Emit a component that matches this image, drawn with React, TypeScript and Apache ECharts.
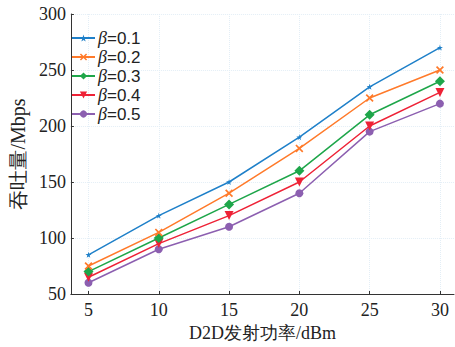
import React, { useEffect, useRef } from "react";
import * as echarts from "echarts";

const xValues = [5, 10, 15, 20, 25, 30];
const xTicks = [5, 10, 15, 20, 25, 30];
const yTicks = [50, 100, 150, 200, 250, 300];
const seriesNames = ["0.1", "0.2", "0.3", "0.4", "0.5"];
const beta01 = [85, 120, 150, 190, 235, 270];
const beta02 = [75, 105, 140, 180, 225, 250];
const beta03 = [70, 100, 130, 160, 210, 240];
const beta04 = [65, 95, 120, 150, 200, 230];
const beta05 = [60, 90, 110, 140, 195, 220];

const colors = ["#1f80c9", "#ff7a2a", "#1ea64a", "#ee2236", "#8c5fb0"];
const starPath =
  "path://M50,0 L61,35 L98,35 L68,57 L79,91 L50,70 L21,91 L32,57 L2,35 L39,35 Z";
const xPath =
  "path://M15,0 L50,35 L85,0 L100,15 L65,50 L100,85 L85,100 L50,65 L15,100 L0,85 L35,50 L0,15 Z";
const symbols = [starPath, xPath, "diamond", "triangle", "circle"];
const symbolSizes = [6, 8, 10, 9, 8];
const symbolRotates = [0, 0, 0, 180, 0];

export default function App() {
  const ref = useRef<HTMLDivElement>(null);
  useEffect(() => {
    if (!ref.current) return;
    const chart = echarts.init(ref.current, null, { renderer: "svg" });
    const data = [beta01, beta02, beta03, beta04, beta05];
    const serif = "Liberation Serif";
    const sans = "Liberation Sans";
    chart.setOption({
      animation: false,
      grid: { left: 59, top: 14, right: 1, bottom: 49, containLabel: false },
      legend: {
        left: 71,
        top: 29,
        orient: "vertical",
        itemGap: 1,
        itemWidth: 23,
        itemHeight: 9,
        padding: 0,
        textStyle: {
          fontFamily: sans,
          fontSize: 17,
          color: "#222",
          padding: [0, 0, 0, -2],
          rich: {
            i: { fontStyle: "italic", fontFamily: serif, fontSize: 18, color: "#222", lineHeight: 17 },
            n: { fontFamily: sans, fontSize: 17, color: "#222", lineHeight: 17 },
          },
        },
        formatter: (name: string) => `{i|β}{n|=${name}}`,
        data: seriesNames,
      },
      xAxis: {
        type: "value",
        min: 3.75,
        max: 31,
        name: "D2D发射功率/dBm",
        nameLocation: "middle",
        nameGap: 30,
        nameTextStyle: { fontFamily: serif, fontSize: 18, color: "#222" },
        axisLine: { lineStyle: { color: "#333", width: 1 } },
        axisTick: { inside: true, length: 3, customValues: xTicks, lineStyle: { color: "#333" } },
        axisLabel: {
          customValues: xTicks,
          fontFamily: serif,
          fontSize: 18,
          color: "#222",
          margin: 7,
        },
        splitLine: {
          show: true,
          lineStyle: { color: "#e3eef6", type: "dotted", width: 1 },
        },
      },
      yAxis: {
        type: "value",
        min: 50,
        max: 300,
        interval: 50,
        name: "吞吐量/Mbps",
        nameLocation: "middle",
        nameGap: 41,
        nameTextStyle: {
          fontFamily: serif,
          fontSize: 20,
          color: "#222",
        },
        axisLine: { show: true, lineStyle: { color: "#333", width: 1 } },
        axisTick: { show: true, inside: true, length: 3, lineStyle: { color: "#333" } },
        axisLabel: { fontFamily: serif, fontSize: 18, color: "#222", margin: 5 },
        splitLine: {
          show: true,
          lineStyle: { color: "#e3eef6", type: "dotted", width: 1 },
        },
      },
      series: seriesNames.map((n, i) => ({
        name: n,
        type: "line",
        data: xValues.map((x, j) => [x, data[i][j]]),
        symbol: symbols[i],
        symbolSize: symbolSizes[i],
        symbolRotate: symbolRotates[i],
        showAllSymbol: true,
        lineStyle: { color: colors[i], width: 1.5 },
        itemStyle: { color: colors[i] },
        z: 10 - i,
      })),
    });
    return () => chart.dispose();
  }, []);
  return (
    <div
      ref={ref}
      style={{ position: "absolute", left: 0, top: 0, width: 455, height: 347 }}
    />
  );
}
